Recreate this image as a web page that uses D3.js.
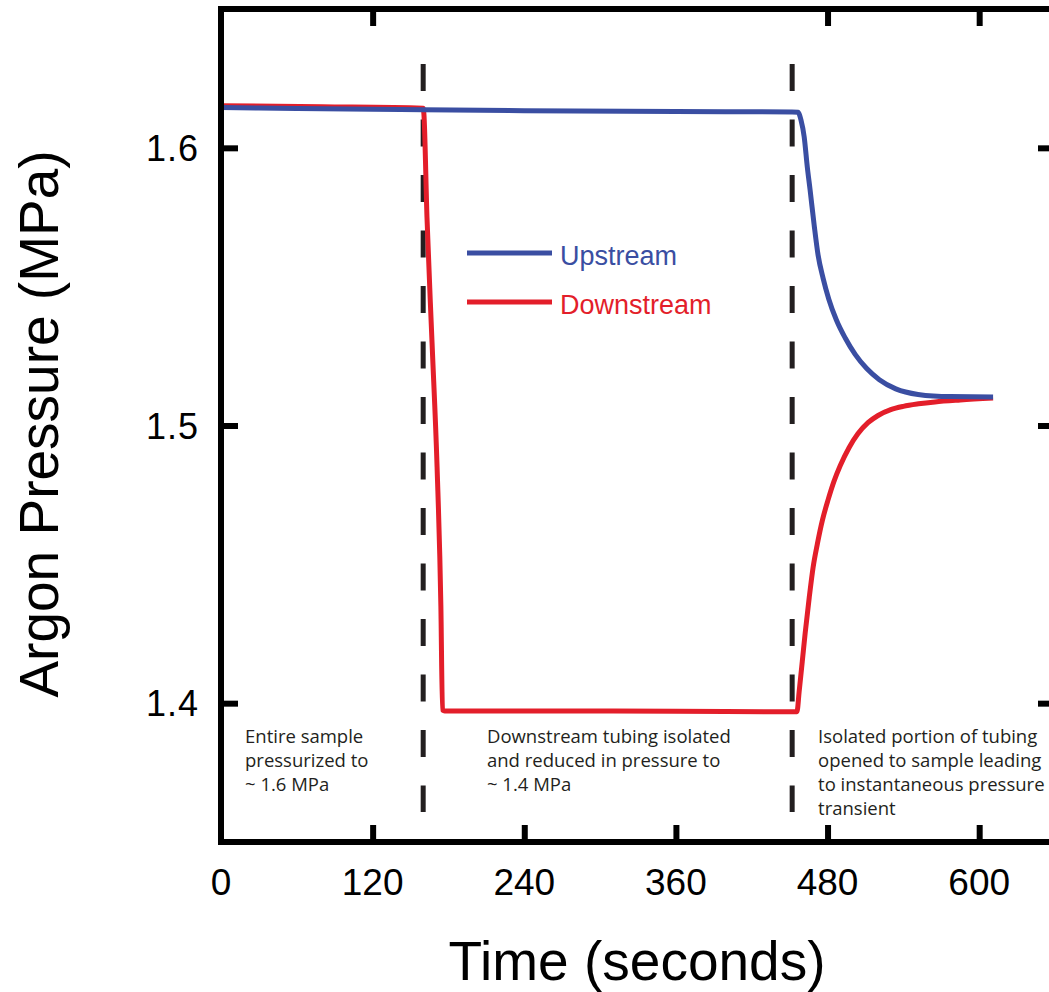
<!DOCTYPE html>
<html><head><meta charset="utf-8">
<script src="https://cdn.jsdelivr.net/npm/d3@7"></script>
<style>body{margin:0;background:#fff}</style>
</head><body>
<svg id="chart" width="1049" height="992"></svg>
<script>
// ---- data ----
const upTime  = [0, 60, 120, 160, 240, 360, 452, 456.6, 459.0, 461.5, 464.0, 466.2, 469.4, 472.5, 476.5, 481.0, 487.0, 494.0, 502.0, 511.0, 521.0, 534.0, 551.6, 577.0, 611.0];
const upValue = [1.6145, 1.6142, 1.6139, 1.6137, 1.6134, 1.6131, 1.6129, 1.6128, 1.6100, 1.6040, 1.5930, 1.5848, 1.5722, 1.5614, 1.5530, 1.5455, 1.5380, 1.5315, 1.5255, 1.5205, 1.5165, 1.5132, 1.5112, 1.5104, 1.5103];

const downTime  = [0, 80, 160, 160.6, 163, 167, 171, 174, 175.3, 177, 240, 360, 455.8, 457.5, 460.0, 462.3, 465.5, 468.6, 472.0, 476.0, 480.4, 485.0, 490.0, 497.0, 504.0, 512.0, 520.0, 530.0, 540.0, 552.0, 565.0, 585.0, 611.0];
const downValue = [1.6152, 1.6148, 1.6143, 1.6120, 1.5750, 1.5300, 1.4850, 1.4350, 1.3975, 1.3972, 1.3972, 1.3971, 1.3969, 1.4040, 1.4150, 1.4253, 1.4380, 1.4490, 1.4575, 1.4660, 1.4732, 1.4798, 1.4855, 1.4920, 1.4970, 1.5010, 1.5036, 1.5057, 1.5069, 1.5078, 1.5085, 1.5092, 1.5099];

const seriesNames  = ["Upstream", "Downstream"];
const seriesColors = ["#3a4ea2", "#e31e2a"];

const xTicks    = [120, 240, 360, 480, 600];
const xTopTicks = [120, 480, 600];
const yTicks    = [1.4, 1.5, 1.6];
const xLabelTicks = [0, 120, 240, 360, 480, 600];

const eventTimes = [160, 452];
const eventSpan  = [1.6302, 1.3608];

const annotationTimes = [19, 210.5, 472.5];
const annotationLines = [
  ["Entire sample", "pressurized to", "~ 1.6 MPa"],
  ["Downstream tubing isolated", "and reduced in pressure to", "~ 1.4 MPa"],
  ["Isolated portion of tubing", "opened to sample leading", "to instantaneous pressure", "transient"]
];
const annotationValue = 1.3855;

const xTitle = "Time (seconds)";
const yTitle = "Argon Pressure (MPa)";

// ---- layout ----
const svg = d3.select("#chart");
const x = d3.scaleLinear().domain([0, 660]).range([221, 1055]);
const y = d3.scaleLinear().domain([1.35, 1.65]).range([842, 9]);
const ink = "#231f20";
const axisFont = "'Liberation Sans', Arial, Helvetica, sans-serif";
const noteFont = "'Open Sans', 'Noto Sans', sans-serif";

svg.append("rect").attr("width", 1049).attr("height", 992).attr("fill", "#fff");

// event dashed lines
svg.append("g").selectAll("line").data(eventTimes).join("line")
  .attr("x1", d => x(d)).attr("x2", d => x(d))
  .attr("y1", y(eventSpan[0])).attr("y2", y(eventSpan[1]))
  .attr("stroke", ink).attr("stroke-width", 5)
  .attr("stroke-dasharray", "27,28.5");

// series
const line = d3.line().x(d => x(d[0])).y(d => y(d[1])).curve(d3.curveMonotoneX);
const downData = downTime.map((t, i) => [t, downValue[i]]);
const upData   = upTime.map((t, i) => [t, upValue[i]]);
svg.append("path").datum(downData).attr("d", line)
  .attr("fill", "none").attr("stroke", seriesColors[1]).attr("stroke-width", 5)
  .attr("stroke-linejoin", "round");
svg.append("path").datum(upData).attr("d", line)
  .attr("fill", "none").attr("stroke", seriesColors[0]).attr("stroke-width", 5)
  .attr("stroke-linejoin", "round");

// frame
svg.append("rect")
  .attr("x", x(0)).attr("y", y(1.65))
  .attr("width", x(660) - x(0)).attr("height", y(1.35) - y(1.65))
  .attr("fill", "none").attr("stroke", "#000").attr("stroke-width", 6);

// ticks (inward)
const tl = 17;
function styleAxis(g) {
  g.select(".domain").remove();
  g.selectAll(".tick line").attr("stroke", "#000").attr("stroke-width", 6);
}
svg.append("g").attr("transform", `translate(0,${y(1.35)})`)
  .call(d3.axisBottom(x).tickValues(xTicks).tickSize(-tl).tickFormat(""))
  .call(styleAxis);
svg.append("g").attr("transform", `translate(0,${y(1.65)})`)
  .call(d3.axisTop(x).tickValues(xTopTicks).tickSize(-tl).tickFormat(""))
  .call(styleAxis);
svg.append("g").attr("transform", `translate(${x(0)},0)`)
  .call(d3.axisLeft(y).tickValues(yTicks).tickSize(-tl).tickFormat(""))
  .call(styleAxis);
svg.append("g").attr("transform", `translate(${x(660)},0)`)
  .call(d3.axisRight(y).tickValues(yTicks).tickSize(-tl).tickFormat(""))
  .call(styleAxis);

// tick labels
svg.append("g").selectAll("text").data(xLabelTicks).join("text")
  .attr("x", d => x(d)).attr("y", 895)
  .attr("text-anchor", "middle")
  .attr("font-family", axisFont).attr("font-size", 37).attr("fill", "#000")
  .text(d => d);
svg.append("g").selectAll("text").data(yTicks).join("text")
  .attr("x", 199).attr("y", d => y(d) + 13)
  .attr("text-anchor", "end")
  .attr("font-family", axisFont).attr("font-size", 36).attr("letter-spacing", 1).attr("fill", "#000")
  .text(d => d.toFixed(1));

// axis titles
svg.append("text").attr("x", 637).attr("y", 980).attr("text-anchor", "middle")
  .attr("font-family", axisFont).attr("font-size", 55).attr("fill", "#000")
  .text(xTitle);
svg.append("text").attr("transform", "translate(58,424) rotate(-90)")
  .attr("text-anchor", "middle")
  .attr("font-family", axisFont).attr("font-size", 55).attr("fill", "#000")
  .text(yTitle);

// legend
const leg = svg.append("g");
seriesNames.forEach((name, i) => {
  const ly = 253 + i * 49;
  leg.append("line").attr("x1", 467).attr("x2", 552).attr("y1", ly).attr("y2", ly)
    .attr("stroke", seriesColors[i]).attr("stroke-width", 5);
  leg.append("text").attr("x", 560).attr("y", ly + 12)
    .attr("font-family", axisFont).attr("font-size", 27).attr("fill", seriesColors[i])
    .text(name);
});

// annotations
annotationLines.forEach((lines, i) => {
  const t = svg.append("text")
    .attr("font-family", noteFont).attr("font-size", 18.5).attr("fill", ink);
  lines.forEach((s, j) => {
    t.append("tspan").attr("x", x(annotationTimes[i])).attr("y", y(annotationValue) + j * 24).text(s);
  });
});
</script>
</body></html>
